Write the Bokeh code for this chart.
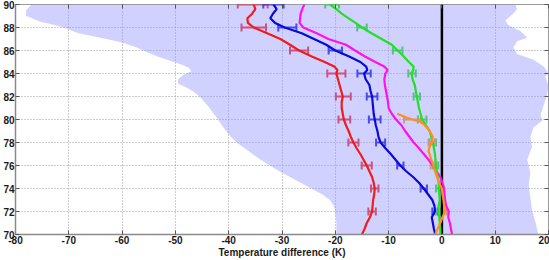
from bokeh.plotting import figure
from bokeh.models import (Range1d, LinearAxis, FixedTicker, Whisker, ColumnDataSource,
                          TeeHead)
from bokeh.embed import file_html
from bokeh.resources import INLINE

# ---------------- data ----------------
x_ticks = [-80, -70, -60, -50, -40, -30, -20, -10, 0, 10, 20]
y_ticks = [70, 72, 74, 76, 78, 80, 82, 84, 86, 88, 90]
x_title = "Temperature difference (K)"

# envelope (shaded range)
band_alt_left = [90, 89.5, 89.0, 88.5, 88.2, 87.9, 87.5, 87.1, 86.7, 86.3, 85.9, 85.5, 85.1, 84.8,
                 84.5, 84.2, 83.9, 83.5, 83.1, 82.8, 82.4, 82.0, 81.5, 81.0, 80.5, 80.0, 79.5,
                 79.0, 78.5, 78.0, 77.5, 77.0, 76.5, 76.0, 75.5, 75.0, 74.5, 74.0, 73.5, 73.0,
                 72.5, 72.0, 71.0, 70.0]
band_left = [-77.0, -78.0, -78.0, -75.3, -72.5, -70.3, -68.2, -64.0, -60.0, -57.5, -55.5, -53.5,
             -51.0, -49.0, -47.5, -47.0, -48.5, -49.5, -49.5, -48.0, -46.5, -45.5, -44.5, -43.6,
             -42.8, -42.0, -41.3, -40.5, -39.6, -38.5, -37.0, -35.5, -34.0, -32.3, -30.5, -28.5,
             -26.5, -24.5, -22.5, -21.0, -20.3, -20.0, -19.8, -19.8]
band_alt_right = [90, 89.6, 89.3, 88.6, 88.2, 87.7, 87.4, 87.1, 86.8, 86.25, 85.7, 85.2, 84.6,
                  84.0, 83.75, 83.5, 82.9, 82.1, 81.25, 80.4, 79.9, 79.3, 78.5, 77.6, 76.5, 75.4,
                  74.3, 73.2, 72.1, 71.0, 70.0]
band_right = [13.8, 14.1, 13.6, 11.9, 12.5, 14.7, 15.4, 16.0, 14.1, 13.4, 14.1, 17.2, 19.1, 20.0,
              19.4, 19.6, 20.0, 19.7, 19.1, 18.5, 18.8, 17.2, 16.6, 16.9, 16.0, 16.6, 16.3, 16.6,
              16.9, 17.6, 18.1]

# profiles
alt = [90, 89.6, 89.2, 88.8, 88.4, 88.0, 87.5, 87.0, 86.5, 86.0, 85.5, 85.0, 84.6, 84.3, 84.0,
       83.5, 83.0, 82.5, 82.0, 81.5, 81.0, 80.5, 80.0, 79.5, 79.0, 78.5, 78.0, 77.5, 77.0, 76.5,
       76.0, 75.5, 75.0, 74.5, 74.0, 73.5, 73.0, 72.5, 72.0, 71.5, 71.0, 70.5, 70.0]
red = [-35.3, -35.0, -35.6, -36.5, -36.4, -35.3, -32.8, -30.3, -28.5, -26.8, -24.5, -22.0, -20.2,
       -19.6, -19.8, -19.5, -19.2, -18.9, -18.6, -18.8, -18.8, -18.6, -18.4, -18.0, -17.5, -17.1,
       -16.6, -16.0, -15.3, -14.7, -14.1, -13.6, -13.1, -12.8, -12.6, -12.7, -12.9, -13.0, -13.1,
       -13.5, -14.1, -14.5, -15.0]
blue = [-31.6, -31.0, -31.7, -32.2, -31.3, -29.5, -26.3, -24.0, -21.7, -20.0, -17.5, -15.3, -14.2,
        -14.0, -14.6, -14.3, -13.6, -13.4, -13.1, -13.0, -12.9, -12.8, -12.6, -12.4, -12.1, -11.9,
        -11.5, -10.6, -9.6, -8.7, -7.8, -6.7, -5.4, -4.3, -3.4, -2.6, -1.8, -1.4, -1.3, -1.9, -1.7,
        -1.5, -1.25]
magenta = [-25.8, -26.2, -26.5, -26.6, -26.7, -26.0, -23.5, -21.3, -18.0, -16.3, -14.5, -12.5,
           -10.8, -10.2, -10.6, -10.8, -10.7, -10.5, -10.3, -10.1, -10.0, -9.4, -8.6, -7.6, -6.9,
           -6.1, -5.3, -4.3, -3.4, -2.5, -1.7, -1.0, -0.3, 0.1, 0.4, 0.5, 0.6, 0.8, 1.3, 1.2, 1.5,
           1.7, 1.9]
green = [-21.0, -19.8, -18.8, -17.5, -16.2, -15.0, -13.2, -11.3, -9.4, -8.3, -7.2, -6.2, -5.3,
         -5.4, -5.7, -5.5, -5.1, -4.9, -4.7, -4.5, -4.3, -4.0, -3.7, -3.0, -2.3, -2.0, -1.7, -1.5,
         -1.3, -1.2, -1.2, -1.0, -0.8, -0.6, -0.6, -0.5, -0.4, -0.6, -0.7, -0.5, -0.4, -0.3, -0.3]
orange_alt = [80.5, 80.2, 80.0, 79.8, 79.5, 79.0, 78.5, 78.0, 77.5, 77.2, 77.0, 76.5, 76.0, 75.5,
              75.0, 74.5, 74.0, 73.5, 73.0, 72.5, 72.0, 71.5, 71.0, 70.5, 70.0]
orange = [-8.4, -6.8, -5.5, -4.0, -3.2, -2.3, -1.7, -1.9, -2.4, -2.5, -2.3, -2.0, -1.6, -1.3, -0.9,
          -0.5, 0.0, 0.1, 0.3, 0.4, 0.6, 0.1, -0.3, -0.8, -1.25]

# error bars (centre, half width)
eb_alt = [90, 88, 86, 84, 82, 80, 78, 76, 74, 72]
red_eb = [-35.5, -35.3, -26.8, -19.8, -18.5, -18.3, -16.6, -14.1, -12.6, -13.1]
red_err = [2.8, 2.3, 1.7, 1.7, 1.4, 1.1, 0.95, 0.95, 0.7, 0.7]
blue_eb = [-31.6, -29.0, -20.0, -14.6, -13.1, -12.6, -11.5, -7.8, -3.4, -1.3]
blue_err = [1.9, 1.7, 1.25, 1.25, 1.0, 1.1, 0.85, 0.6, 0.6, 0.5]
green_eb = [-20.6, -15.0, -8.3, -5.6, -4.7, -3.7, -1.7, -1.2, -0.6, -0.8]
green_err = [1.3, 0.9, 0.9, 0.7, 0.6, 0.8, 0.6, 0.5, 0.5, 0.5]
orange_eb_alt = [80, 78, 76, 74, 72]
orange_eb = [-5.5, -1.9, -1.5, -0.1, 0.5]
orange_err = [1.6, 0.6, 0.6, 0.4, 0.4]

zero_x = [0, 0]
zero_alt = [70, 90]

# ---------------- figure ----------------
p = figure(width=549, height=260, output_backend="svg", toolbar_location=None,
           x_range=Range1d(-80, 20), y_range=Range1d(70, 90),
           min_border_left=15, min_border_right=1, min_border_top=4, min_border_bottom=0)
p.background_fill_color = "white"
p.border_fill_color = "white"
p.outline_line_color = "#9a9a9a"
p.outline_line_width = 1

FONT = "Liberation Sans"

for ax in (p.xaxis[0], p.yaxis[0]):
    ax.axis_line_color = "#8a8a8a"
    ax.axis_line_width = 1.5
    ax.major_tick_in = 4
    ax.major_tick_out = 0
    ax.major_tick_line_color = "#555555"
    ax.minor_tick_line_color = None
    ax.major_label_text_font = FONT
    ax.major_label_text_font_style = "bold"
    ax.major_label_text_font_size = "10px"
    ax.major_label_text_color = "#1a1a1a"
p.xaxis[0].ticker = FixedTicker(ticks=x_ticks)
p.yaxis[0].ticker = FixedTicker(ticks=y_ticks)
p.xaxis[0].major_label_overrides = {t: str(t) for t in x_ticks}
p.yaxis[0].major_label_overrides = {t: str(t) for t in y_ticks}
p.xaxis[0].major_label_standoff = 1
p.yaxis[0].major_label_standoff = 1
p.xaxis[0].axis_label = x_title
p.xaxis[0].axis_label_standoff = 0
p.xaxis[0].axis_label_text_font = FONT
p.xaxis[0].axis_label_text_font_style = "bold"
p.xaxis[0].axis_label_text_font_size = "10px"
p.xaxis[0].axis_label_text_color = "#1a1a1a"

for g, t in ((p.xgrid[0], x_ticks), (p.ygrid[0], y_ticks)):
    g.ticker = FixedTicker(ticks=t)
    g.grid_line_color = "#9a9a9a"
    g.grid_line_dash = "1 2"
    g.grid_line_width = 1

# shaded envelope
band_x = band_left + band_right[::-1]
band_y = band_alt_left + band_alt_right[::-1]
p.patch(band_x, band_y, fill_color="#9999ff", fill_alpha=0.45, line_color=None)

# zero line
p.line(zero_x, zero_alt, line_color="black", line_width=2.5)

series = [
    (red, alt, "#f01c1c"),
    (blue, alt, "#0a0ad8"),
    (magenta, alt, "#ff10f0"),
    (green, alt, "#22e022"),
    (orange, orange_alt, "#ff9020"),
]
for xs, ys, c in series:
    p.line(xs, ys, line_color=c, line_width=2.2)

ebs = [
    (red_eb, red_err, eb_alt, "#f01c1c"),
    (blue_eb, blue_err, eb_alt, "#0a0ad8"),
    (green_eb, green_err, eb_alt, "#22e022"),
    (orange_eb, orange_err, orange_eb_alt, "#ff9020"),
]
for cx, er, ya, c in ebs:
    src = ColumnDataSource(dict(base=ya,
                                lower=[a - b for a, b in zip(cx, er)],
                                upper=[a + b for a, b in zip(cx, er)]))
    w = Whisker(source=src, base="base", lower="lower", upper="upper", dimension="width",
                line_color=c, line_width=2,
                lower_head=TeeHead(size=8, line_color=c, line_width=2),
                upper_head=TeeHead(size=8, line_color=c, line_width=2))
    p.add_layout(w)

# top and right axes (ticks only)
top = LinearAxis(ticker=FixedTicker(ticks=x_ticks),
                 major_label_overrides={t: "" for t in x_ticks},
                 major_tick_in=4, major_tick_out=0, minor_tick_line_color=None,
                 axis_line_color=None, major_tick_line_color="#555555",
                 major_label_text_font_size="1px", major_label_standoff=0)
right = LinearAxis(ticker=FixedTicker(ticks=y_ticks),
                   major_label_overrides={t: "" for t in y_ticks},
                   major_tick_in=4, major_tick_out=0, minor_tick_line_color=None,
                   axis_line_color=None, major_tick_line_color="#555555",
                   major_label_text_font_size="1px", major_label_standoff=0)
p.add_layout(top, "above")
p.add_layout(right, "right")

open("out.html", "w").write(file_html(p, INLINE))
